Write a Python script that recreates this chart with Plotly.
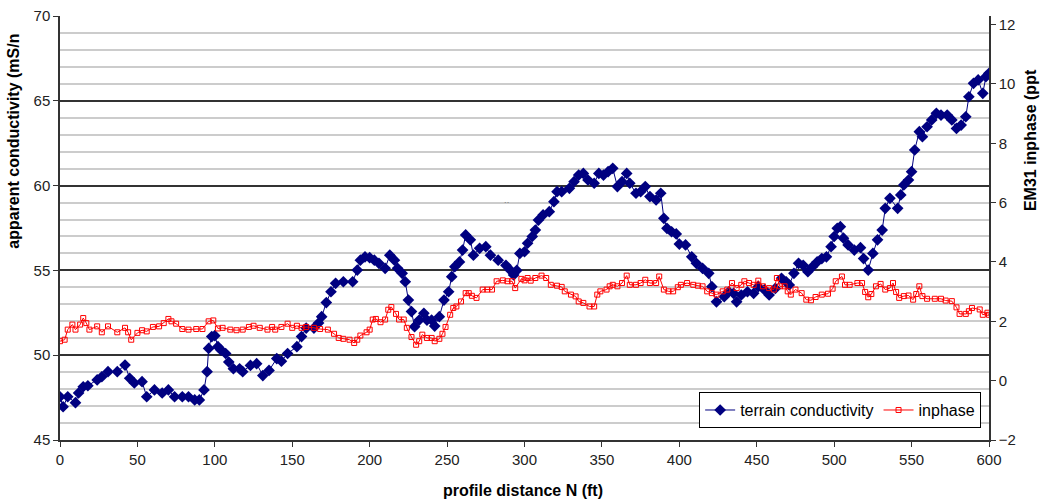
import plotly.graph_objects as go

# terrain conductivity (mS/m), left axis
cond_dist = [0, 2, 5, 10, 12, 15, 18, 24, 27, 31, 37, 42, 45, 48, 53, 56, 61, 66, 70, 74,
             79, 83, 87, 90, 93, 95, 96, 98, 100, 102, 104, 107, 109, 112, 116, 118, 123, 127, 131, 135,
             140, 143, 147, 153, 156, 159, 164, 167, 169, 172, 175, 178, 183, 189, 192, 194, 197, 200, 203, 206,
             210, 213, 216, 218, 221, 223, 225, 227, 229, 232, 235, 237, 240, 242, 245, 248, 251, 253, 255, 258,
             260, 262, 265, 267, 271, 275, 278, 283, 288, 291, 293, 295, 297, 300, 302, 305, 307, 309, 312, 316,
             319, 321, 324, 329, 332, 335, 338, 341, 345, 348, 351, 354, 357, 360, 363, 366, 368, 372, 375, 378,
             381, 385, 388, 390, 392, 395, 398, 400, 404, 408, 411, 415, 419, 421, 424, 429, 432, 435, 437, 440,
             444, 448, 451, 455, 458, 462, 466, 469, 471, 474, 477, 480, 483, 486, 489, 492, 495, 498, 500, 502,
             504, 506, 509, 513, 517, 519, 522, 525, 528, 531, 533, 536, 541, 543, 545, 548, 550, 552, 555, 557,
             560, 563, 566, 569, 573, 576, 579, 582, 585, 587, 590, 593, 596, 598, 600]
cond_vals = [47.55, 46.96, 47.55, 47.2, 47.77, 48.14, 48.2, 48.54, 48.73, 49.03, 49.03, 49.42, 48.64, 48.36, 48.44, 47.55, 47.95, 47.77, 47.95, 47.55,
             47.55, 47.55, 47.36, 47.36, 47.95, 49.03, 50.4, 51.1, 51.15, 50.5, 50.3, 50.1, 49.6, 49.2, 49.2, 49.03, 49.4, 49.5, 48.8, 49.1,
             49.8, 49.65, 50.1, 50.5, 51.1, 51.6, 51.6, 51.9, 52.27, 53.1, 53.74, 54.24, 54.33, 54.33, 55.02, 55.6, 55.8, 55.75, 55.6, 55.42,
             55.12, 55.9, 55.6, 55.12, 54.83, 54.33, 53.25, 52.57, 51.68, 52.07, 52.47, 52.07, 52.07, 51.72, 52.27, 53.25, 53.74, 54.63, 55.22, 55.5,
             56.2, 57.09, 56.8, 55.9, 56.3, 56.4, 55.9, 55.6, 55.3, 55.0, 54.73, 55.0, 56.0, 56.1, 56.6, 57.0, 57.38, 57.97, 58.27, 58.46,
             59.05, 59.64, 59.64, 59.84, 60.23, 60.62, 60.72, 60.33, 60.14, 60.72, 60.62, 60.82, 61.02, 59.94, 60.23, 60.72, 60.14, 59.55, 59.64, 59.94,
             59.35, 59.15, 59.55, 58.07, 57.48, 57.28, 57.15, 56.55, 56.5, 55.8, 55.42, 55.12, 54.83, 54.04, 53.15, 53.45, 53.74, 53.65, 53.15, 53.55,
             53.74, 53.65, 54.04, 53.85, 53.55, 53.94, 54.53, 54.33, 54.14, 54.83, 55.42, 55.3, 54.92, 55.22, 55.5, 55.7, 55.8, 56.4, 57.0, 57.48,
             57.58, 56.9, 56.5, 56.2, 56.34, 55.7, 55.02, 56.0, 56.8, 57.38, 58.66, 59.25, 58.66, 59.45, 60.04, 60.33, 60.82, 62.1, 63.18, 62.88,
             63.47, 63.87, 64.26, 64.16, 64.16, 63.87, 63.37, 63.57, 64.06, 65.24, 66.03, 66.23, 65.44, 66.42, 66.62]

# EM31 inphase (ppt), right axis
inph_dist = [0, 3, 5, 8, 10, 13, 15, 17, 19, 24, 27, 31, 37, 42, 44, 46, 50, 53, 56, 60,
             64, 67, 70, 72, 75, 79, 83, 88, 92, 96, 99, 102, 105, 110, 114, 118, 122, 125, 129, 134,
             137, 139, 143, 147, 150, 153, 156, 159, 164, 168, 173, 177, 180, 183, 187, 190, 192, 194, 198, 200,
             202, 204, 207, 210, 212, 214, 217, 219, 222, 224, 227, 230, 232, 234, 237, 240, 242, 245, 247, 249,
             252, 254, 256, 259, 262, 264, 266, 269, 273, 276, 279, 282, 286, 289, 292, 294, 298, 300, 302, 304,
             307, 311, 314, 317, 321, 324, 326, 330, 333, 335, 338, 342, 345, 347, 349, 353, 355, 357, 360, 363,
             366, 368, 372, 375, 378, 381, 385, 387, 390, 393, 396, 399, 401, 405, 409, 412, 415, 418, 421, 424,
             428, 431, 434, 437, 440, 442, 445, 448, 451, 454, 458, 461, 463, 465, 468, 470, 472, 475, 479, 482,
             485, 488, 492, 496, 499, 501, 505, 507, 510, 515, 518, 520, 522, 524, 527, 530, 533, 536, 538, 540,
             542, 545, 548, 551, 553, 555, 557, 560, 565, 569, 572, 576, 579, 581, 585, 587, 589, 594, 596, 599, 600]
inph_vals = [1.33, 1.38, 1.72, 1.89, 1.72, 1.89, 2.11, 1.94, 1.72, 1.83, 1.63, 1.83, 1.63, 1.78, 1.63, 1.38, 1.61, 1.70, 1.66, 1.81,
             1.83, 1.94, 2.08, 2.0, 1.92, 1.74, 1.72, 1.74, 1.74, 2.0, 2.03, 1.76, 1.78, 1.72, 1.70, 1.72, 1.81, 1.85, 1.78, 1.72,
             1.81, 1.72, 1.81, 1.92, 1.78, 1.85, 1.78, 1.81, 1.78, 1.74, 1.72, 1.58, 1.44, 1.41, 1.38, 1.27, 1.38, 1.52, 1.63, 1.72,
             2.06, 2.08, 1.97, 2.06, 2.39, 2.48, 2.25, 2.06, 2.06, 1.78, 1.47, 1.21, 1.33, 1.55, 1.44, 1.44, 1.33, 1.41, 1.58, 1.81,
             2.22, 2.45, 2.50, 2.67, 2.95, 2.95, 2.86, 2.79, 3.07, 3.07, 3.07, 3.35, 3.38, 3.35, 3.35, 3.12, 3.43, 3.38, 3.46, 3.37,
             3.46, 3.54, 3.46, 3.23, 3.20, 3.16, 3.01, 2.90, 2.84, 2.67, 2.62, 2.50, 2.50, 2.90, 3.01, 3.07, 3.18, 3.23, 3.18, 3.29,
             3.54, 3.23, 3.23, 3.29, 3.40, 3.29, 3.29, 3.51, 3.07, 3.01, 3.01, 3.15, 3.23, 3.29, 3.23, 3.20, 3.18, 3.01, 2.95, 2.90,
             3.01, 3.07, 3.29, 3.12, 3.23, 3.35, 3.29, 3.23, 3.37, 3.18, 3.12, 3.07, 3.46, 3.18, 3.18, 3.01, 2.90, 3.07, 2.95, 2.73,
             2.71, 2.82, 2.90, 2.93, 3.10, 3.35, 3.51, 3.23, 3.23, 3.29, 3.29, 2.99, 2.81, 2.92, 3.18, 3.26, 3.07, 3.12, 3.29, 2.99,
             2.79, 2.85, 2.87, 2.73, 2.92, 3.18, 2.85, 2.76, 2.76, 2.76, 2.70, 2.68, 2.47, 2.25, 2.25, 2.34, 2.45, 2.40, 2.22, 2.29, 2.22]

x_ticks = [0, 50, 100, 150, 200, 250, 300, 350, 400, 450, 500, 550, 600]

FONT = "Liberation Sans, Arial, sans-serif"
TICKFONT = dict(family=FONT, size=15, color="#222")
TITLEFONT = dict(family=FONT, size=16, color="#000")

fig = go.Figure()
fig.add_trace(go.Scatter(
    x=cond_dist, y=cond_vals, name="terrain conductivity", mode="lines+markers",
    line=dict(color="#000080", width=1),
    marker=dict(symbol="diamond", size=9, color="#000080", line=dict(width=0)),
    yaxis="y"))
fig.add_trace(go.Scatter(
    x=inph_dist, y=inph_vals, name="inphase", mode="lines+markers",
    line=dict(color="#ff0000", width=1),
    marker=dict(symbol="square-open", size=5, color="#ff0000", line=dict(width=1)),
    yaxis="y2"))

fig.update_layout(
    width=1042, height=502,
    margin=dict(l=60, r=53, t=16, b=62),
    paper_bgcolor="white", plot_bgcolor="white",
    font=dict(family=FONT, size=15, color="#222"),
    showlegend=True,
    legend=dict(orientation="h", x=0.688, y=0.113, xanchor="left", yanchor="top",
                bordercolor="#000", borderwidth=1, bgcolor="white",
                font=dict(family=FONT, size=16, color="#000"),
                itemwidth=30, tracegroupgap=0),
    xaxis=dict(range=[0, 600], tickvals=x_ticks, ticks="outside", ticklen=5,
               tickcolor="#333", showline=True, linecolor="#333", linewidth=1.5,
               showgrid=False, zeroline=False, tickfont=TICKFONT, automargin=False),
    yaxis=dict(range=[45, 70], dtick=5, tick0=45, ticks="outside", ticklen=5,
               tickcolor="#333", showline=True, linecolor="#333", linewidth=1.5,
               showgrid=True, gridcolor="#333", gridwidth=1.5, zeroline=False,
               minor=dict(dtick=1, showgrid=True, gridcolor="#cccccc", gridwidth=1.5),
               tickfont=TICKFONT, automargin=False),
    yaxis2=dict(range=[-2, 12.29], tick0=-2, dtick=2, overlaying="y", side="right",
                ticks="outside", ticklen=5, tickcolor="#333", showline=True,
                linecolor="#333", linewidth=1.5, showgrid=False, zeroline=False,
                tickfont=TICKFONT, automargin=False),
    annotations=[
        dict(text="<b>apparent conductivity (mS/n</b>", xref="paper", yref="paper",
             x=-0.051, y=0.705, textangle=-90, showarrow=False,
             font=TITLEFONT, xanchor="center", yanchor="middle"),
        dict(text="<b>EM31 inphase (ppt</b>", xref="paper", yref="paper",
             x=1.044, y=0.707, textangle=-90, showarrow=False,
             font=TITLEFONT, xanchor="center", yanchor="middle"),
        dict(text="<b>profile distance N (ft)</b>", xref="paper", yref="paper",
             x=0.498, y=-0.118, showarrow=False,
             font=TITLEFONT, xanchor="center", yanchor="middle"),
        dict(text="``", xref="x", yref="y", x=289, y=58.9, showarrow=False,
             font=dict(family=FONT, size=8, color="#444")),
    ],
)

# remove the browser's default 8px body margin so the figure fills the window exactly
fig.write_html("out.html",
               config={"displayModeBar": False},
               post_script="document.body.style.margin='0px';document.body.style.overflow='hidden';")
